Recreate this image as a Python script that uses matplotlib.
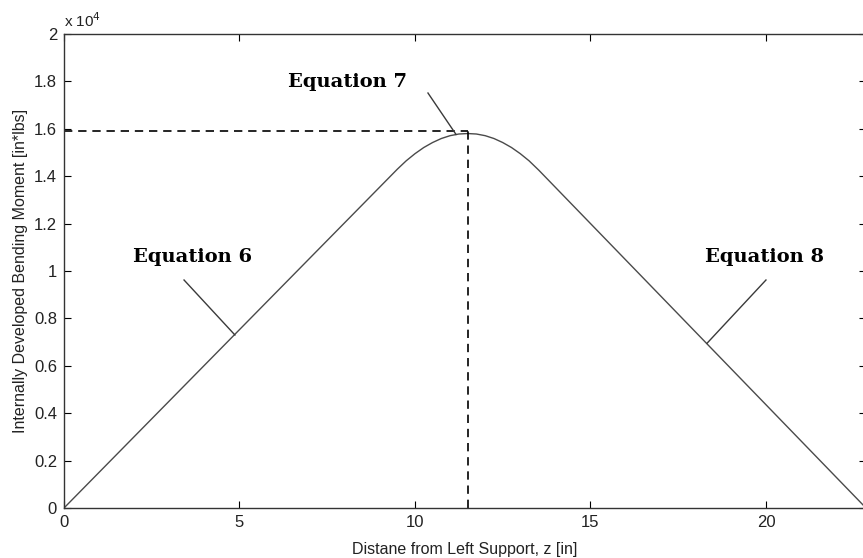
import matplotlib
matplotlib.use("Agg")
import matplotlib.pyplot as plt
from matplotlib.ticker import FuncFormatter

# Data
z_in = [0, 9.5, 9.75, 10.0, 10.25, 10.5, 10.75, 11.0, 11.25, 11.5,
        11.75, 12.0, 12.25, 12.5, 12.75, 13.0, 13.25, 13.53, 22.85]
moment = [0, 14300, 14650, 14950, 15210, 15420, 15590, 15710, 15780, 15800,
          15780, 15710, 15590, 15420, 15210, 14950, 14650, 14250, 0]
peak_z = 11.5
peak_m = 15900
x_ticks = [0, 5, 10, 15, 20]
y_ticks = [0, 2000, 4000, 6000, 8000, 10000, 12000, 14000, 16000, 18000, 20000]

labels = ["Equation 6", "Equation 7", "Equation 8"]
label_xy = [(3.65, 10570), (8.09, 17970), (19.97, 10610)]
leader_start = [(3.42, 9620), (10.37, 17510), (20.0, 9620)]
leader_end = [(4.87, 7300), (11.17, 15760), (18.32, 6950)]

sans = ["Liberation Sans", "DejaVu Sans"]

fig = plt.figure(figsize=(8.63, 5.58), dpi=100)
ax = fig.add_axes([64/863, 50/558, 802/863, 474/558])

ax.plot(z_in, moment, color="#4a4a4a", lw=1.0)
ax.plot([0, peak_z], [peak_m, peak_m], color="black", lw=1.2, ls=(0, (5, 3.5)))
ax.plot([peak_z, peak_z], [0, peak_m], color="black", lw=1.2, ls=(0, (5, 3.5)))

for (x0, y0), (x1, y1) in zip(leader_start, leader_end):
    ax.plot([x0, x1], [y0, y1], color="#3a3a3a", lw=1.0)
for t, (x, y) in zip(labels, label_xy):
    ax.text(x, y, t, ha="center", va="center", fontsize=14, fontweight="bold",
            family=["DejaVu Serif"])

ax.set_xlim(0, 22.85)
ax.set_ylim(0, 20000)
ax.set_xticks(x_ticks)
ax.set_yticks(y_ticks)
ax.yaxis.set_major_formatter(FuncFormatter(lambda v, p: "%g" % (v / 1e4)))
ax.tick_params(direction="in", length=5, width=0.8, top=True, right=True,
               labelsize=12, colors="black", pad=5)
for lab in ax.get_xticklabels() + ax.get_yticklabels():
    lab.set_family(sans)
    lab.set_color("#222222")
for s in ax.spines.values():
    s.set_color("#333333")
    s.set_linewidth(1.0)

ax.set_xlabel("Distane from Left Support, z [in]", fontsize=11.5, family=sans,
              color="#222222", labelpad=9)
ax.set_ylabel("Internally Developed Bending Moment [in*lbs]", fontsize=11.5,
              family=sans, color="#222222", labelpad=4)
ax.text(0.0, 1.008, "x 10$^4$", transform=ax.transAxes, ha="left", va="bottom",
        fontsize=11, family=sans, color="#222222")

fig.savefig("out.png", dpi=100)
